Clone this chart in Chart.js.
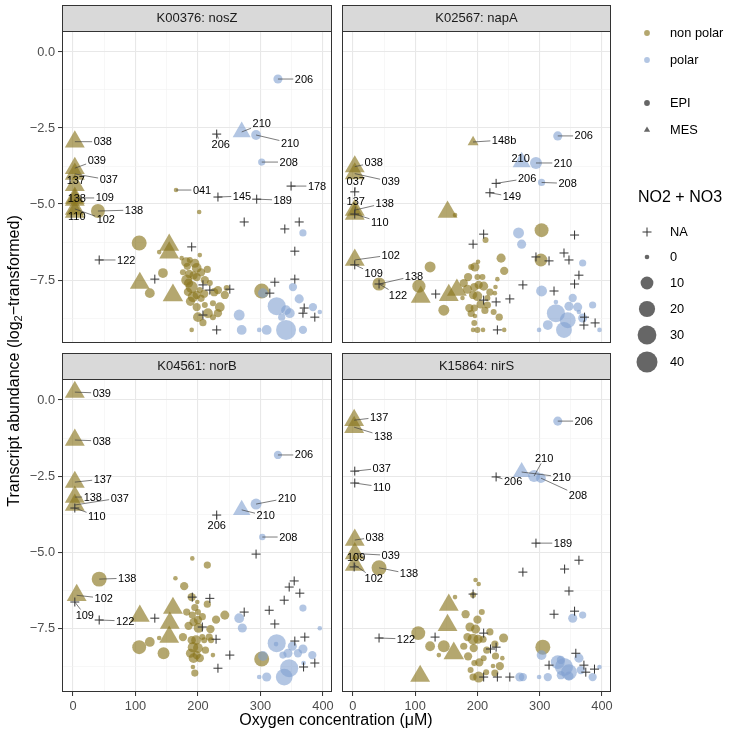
<!DOCTYPE html>
<html>
<head>
<meta charset="utf-8">
<script src="https://cdn.jsdelivr.net/npm/chart.js@4.4.1/dist/chart.umd.min.js"></script>
<style>
  body { margin: 0; background: #fff; font-family: "Liberation Sans", Arial, Helvetica, sans-serif; }
  #wrap { position: relative; width: 729px; height: 739px; overflow: hidden; background: #fff; }
  #wrap canvas { position: absolute; left: 0; top: 0; }
  .title { position: absolute; font-size: 16px; line-height: 20px; color: #000; text-align: center; white-space: nowrap; }
  .ytitle { left: -186px; top: 351px; width: 400px; transform: rotate(-90deg); }
  .xtitle { left: 136px; top: 710px; width: 400px; }
  .ytitle sub { font-size: 11px; vertical-align: -3px; line-height: 0; }
  .leg { position: absolute; left: 670px; font-size: 12.8px; line-height: 16px; color: #000; white-space: nowrap; }
  .legtitle { position: absolute; left: 638px; top: 187px; font-size: 16px; line-height: 20px; white-space: nowrap; }
</style>
</head>
<body>
<div id="wrap">
  <canvas id="c0" width="729" height="739"></canvas>
  <canvas id="c1" width="729" height="739"></canvas>
  <canvas id="c2" width="729" height="739"></canvas>
  <canvas id="c3" width="729" height="739"></canvas>
  <svg id="legsym" width="60" height="400" style="position:absolute;left:620px;top:0"></svg>
  <div class="title ytitle">Transcript abundance (log<sub>2</sub>−transformed)</div>
  <div class="title xtitle">Oxygen concentration (μM)</div>
  <div class="legtitle">NO2 + NO3</div>
</div>
<script>
// ---- data: [oxygen (uM), log2 transcript abundance, NO2+NO3 (uM)] ----
// crosses (no NO2+NO3 value): [oxygen, abundance]
// labels: [oxygen, abundance, station]

// K00376: nosZ
const nosZ_npEpi = [[165,-4.54,0],[40,-5.23,13],[106,-6.28,16],[144,-7.27,4],[123,-7.93,4],[138,-6.58,0],[174,-6.78,0],
  [181,-6.91,4],[187,-6.84,0.3],[203,-6.68,0],[202,-5.26,0],[198,-7.1,4],[176,-7.24,0.3],[182,-7.5,6],[190,-7.73,8],
  [198,-7.4,2],[211,-7.5,2],[219,-7.6,0.3],[198,-7.99,2],[198,-8.39,2],[200,-8.72,4],[190,-9.14,0],[211,-8.32,0.3],
  [224,-8.26,0.3],[232,-7.83,2],[243,-7.99,2],[246,-7.76,0.3],[235,-8.39,4],[232,-8.59,2],[224,-8.72,0.3],[216,-8.59,4],
  [203,-7.83,0.3],[184,-7.89,2],[185,-7.6,3],[193,-7.35,2],[205,-8.1,1],[192,-8.05,5],[186,-7.3,2],[210,-7.95,2],
  [195,-6.95,3],[205,-7.25,2],[188,-8.2,3],[215,-7.15,1],[226,-7.9,2],[208,-8.9,1],[183,-7.05,1],[302,-7.86,16]];
const nosZ_pEpi = [[328,-0.89,3],[293,-2.73,4],[302,-3.62,1],[368,-5.95,1],[352,-7.73,2],[362,-8.12,3],[326,-8.36,27],
  [341,-8.49,4],[347,-8.59,4],[384,-8.39,2],[395,-8.55,0],[334,-8.72,1],[341,-9.14,35],[368,-9.14,2],[310,-9.14,4],
  [298,-9.14,0],[270,-9.14,4],[266,-8.65,6],[304,-7.93,4]];
const nosZ_npMes = [[3,-2.95,35],[3,-3.82,35],[3,-4.01,35],[3,-4.38,35],[3,-4.87,35],[3,-4.8,35],[3,-5.26,35],[3,-5.16,35],
  [154,-6.35,35],[154,-6.6,35],[107,-7.6,35],[160,-8.0,38]];
const nosZ_pMes = [[270,-2.63,27]];
const nosZ_na = [[230,-2.7],[349,-4.41],[232,-4.77],[294,-4.84],[42,-6.84],[131,-7.47],[190,-6.41],[208,-7.66],[219,-7.83],
  [251,-7.8],[208,-8.65],[230,-9.14],[274,-5.59],[339,-5.82],[362,-5.59],[355,-6.55],[355,-7.47],[323,-7.57],[315,-7.93],
  [370,-8.42],[368,-8.59],[387,-8.72]];
const nosZ_labels = [[328,-0.89,'206'],[270,-2.63,'210'],[293,-2.73,'210'],[230,-2.7,'206'],[302,-3.62,'208'],[349,-4.41,'178'],
  [165,-4.54,'041'],[232,-4.77,'145'],[294,-4.84,'189'],[3,-2.95,'038'],[3,-3.82,'039'],[3,-4.01,'037'],[3,-4.38,'137'],
  [3,-4.87,'138'],[3,-4.8,'109'],[3,-5.26,'110'],[3,-5.16,'102'],[40,-5.23,'138'],[42,-6.84,'122']];

// K02567: napA
const napA_npEpi = [[164,-5.36,0],[124,-7.07,6],[106,-7.7,11],[146,-8.49,6],[42,-7.63,11],[213,-6.18,0.3],[238,-6.78,3],
  [243,-7.2,2],[232,-7.47,0],[196,-7.07,3],[190,-7.07,0.3],[201,-6.9,0],[200,-7.4,0.3],[178,-7.6,2],[184,-7.8,3],[195,-7.73,2],
  [202,-7.66,2],[210,-7.7,3],[200,-8.03,4],[193,-7.99,2],[187,-8.42,2],[195,-8.42,1],[196,-8.68,0],[195,-8.91,0.3],
  [200,-9.14,0.3],[209,-9.14,0],[193,-9.14,0],[216,-8.32,1],[226,-8.55,0.3],[235,-8.72,1],[229,-7.73,0],[228,-7.93,0],
  [243,-9.14,0],[176,-8.09,0],[208,-7.4,0.3],[216,-8.09,0.3],[205,-8.3,2],[190,-8.6,1],[220,-7.9,1],[185,-7.4,2],
  [212,-8.5,1],[303,-5.86,13],[302,-6.84,10]];
const napA_pEpi = [[329,-2.76,3],[294,-3.65,8],[303,-4.29,1],[266,-5.95,6],[271,-6.32,3],[303,-7.86,6],[369,-6.94,1],
  [353,-8.09,2],[347,-8.36,3],[361,-8.39,3],[385,-8.32,1],[326,-8.22,0],[326,-8.59,27],[345,-8.82,19],[339,-9.14,19],
  [313,-8.98,4],[299,-9.14,0],[369,-8.75,3],[396,-9.14,0],[363,-8.55,0]];
const napA_npMes = [[193,-2.96,6],[3,-3.77,35],[3,-4.0,35],[3,-5.33,35],[3,-5.2,35],[3,-6.84,35],[152,-5.26,35],
  [109,-8.06,35],[154,-8.0,35],[167,-7.83,35]];
const napA_pMes = [[271,-3.62,27]];
const napA_na = [[3,-4.6],[3,-5.33],[3,-7.0],[42,-7.63],[230,-4.32],[220,-4.63],[133,-7.96],[193,-6.32],[210,-5.99],
  [210,-8.16],[230,-8.22],[252,-8.12],[232,-9.14],[273,-7.66],[294,-6.74],[315,-6.87],[323,-7.86],[356,-6.02],[339,-6.61],
  [347,-6.84],[363,-7.34],[356,-7.63],[372,-8.72],[371,-8.98],[389,-8.91]];
const napA_labels = [[329,-2.76,'206'],[193,-2.96,'148b'],[271,-3.62,'210'],[294,-3.65,'210'],[230,-4.32,'206'],
  [303,-4.29,'208'],[220,-4.63,'149'],[3,-3.77,'038'],[3,-4.0,'039'],[3,-4.6,'037'],[3,-5.33,'137'],[3,-5.2,'138'],
  [3,-5.33,'110'],[3,-6.84,'102'],[3,-7.0,'109'],[42,-7.63,'138'],[42,-7.63,'122']];

// K04561: norB
const norB_npEpi = [[42,-5.87,16],[106,-8.1,13],[123,-7.93,4],[145,-8.3,8],[138,-7.8,0],[191,-5.19,0],[215,-5.41,1],
  [164,-5.84,0],[178,-6.1,2],[190,-6.46,2],[199,-6.62,0],[182,-6.95,1],[191,-7.05,1],[193,-7.28,2],[200,-7.21,2],
  [201,-7.47,4],[176,-7.77,2],[190,-7.87,2],[197,-7.87,4],[192,-8.1,5],[200,-8.13,4],[193,-8.46,4],[198,-8.36,2],
  [192,-8.75,0],[195,-8.95,1],[210,-7.87,0.3],[229,-7.2,2],[220,-7.51,2],[243,-7.05,3],[215,-6.69,1],[221,-7.87,0.3],
  [203,-8.46,2],[207,-7.77,0.3],[200,-6.95,0.3],[218,-7.77,1],[224,-8.36,0],[185,-7.4,2],[207,-7.1,1],[188,-8.3,3],
  [212,-8.2,1],[195,-6.8,1],[302,-8.49,16]];
const norB_pEpi = [[328,-1.8,2],[293,-3.41,6],[303,-4.49,0.5],[266,-7.15,4],[271,-7.47,3],[304,-8.39,4],[368,-6.82,1],
  [395,-7.48,0],[326,-7.97,27],[325,-8.0,0],[351,-8.07,3],[368,-8.16,3],[360,-8.3,2],[344,-8.3,3],[336,-8.36,1],
  [383,-8.36,2],[346,-8.79,27],[338,-9.08,22],[310,-9.08,3],[298,-9.08,0],[369,-8.62,0]];
const norB_npMes = [[3,0.26,35],[3,-1.31,35],[3,-2.69,35],[3,-3.18,35],[3,-3.44,35],[6,-6.4,35],[107,-7.08,35],
  [160,-6.82,35],[155,-7.31,35],[154,-7.77,35]];
const norB_pMes = [[270,-3.6,25]];
const norB_na = [[3,-3.54],[230,-3.77],[293,-5.05],[3,-6.62],[42,-7.21],[191,-6.46],[219,-6.5],[131,-7.15],[207,-7.44],
  [229,-7.84],[251,-8.36],[232,-8.79],[274,-6.95],[314,-6.89],[323,-7.34],[338,-6.56],[346,-6.13],[354,-5.93],
  [363,-6.33],[355,-7.9],[371,-7.77],[369,-8.75],[387,-8.62]];
const norB_labels = [[3,0.26,'039'],[3,-1.31,'038'],[3,-2.69,'137'],[3,-3.18,'138'],[3,-3.44,'037'],[3,-3.54,'110'],
  [328,-1.8,'206'],[293,-3.41,'210'],[270,-3.6,'210'],[230,-3.77,'206'],[303,-4.49,'208'],[42,-5.87,'138'],
  [6,-6.4,'102'],[3,-6.62,'109'],[42,-7.21,'122']];

// K15864: nirS
const nirS_npEpi = [[42,-5.5,16],[105,-7.64,13],[124,-8.07,4],[146,-8.07,8],[138,-8.36,0],[164,-6.46,0],[181,-7.02,2],
  [193,-6.39,0.3],[197,-5.9,0],[202,-6.03,0],[207,-6.95,0.3],[188,-7.44,3],[197,-7.51,3],[184,-7.77,2],[193,-7.84,6],
  [201,-7.84,3],[178,-8.07,1],[194,-8.13,2],[209,-7.84,1],[242,-7.8,3],[228,-8.0,1],[229,-8.39,1],[240,-8.46,0],
  [236,-8.72,2],[225,-8.72,0],[228,-8.95,1],[210,-8.46,0.3],[195,-8.62,0.3],[189,-8.85,0.3],[202,-9.08,6],[193,-9.08,1],
  [214,-8.92,0.3],[200,-7.2,2],[185,-8.4,2],[215,-8.2,1],[203,-8.6,2],[220,-7.6,1],[305,-8.1,16]];
const nirS_pEpi = [[329,-0.69,3],[291,-2.49,8],[302,-2.56,4],[353,-7.15,3],[369,-7.05,1],[303,-8.36,4],[268,-9.08,3],
  [273,-9.08,2],[299,-9.08,0],[313,-9.08,2],[329,-8.59,13],[339,-8.75,27],[347,-8.92,19],[334,-9.02,2],[347,-9.05,3],
  [363,-8.46,3],[366,-8.85,2],[385,-9.08,2],[396,-8.75,0],[334,-8.52,2]];
const nirS_npMes = [[2,-0.66,35],[2,-0.89,35],[3,-4.59,35],[3,-5.03,35],[3,-5.41,35],[154,-6.72,35],[152,-7.38,35],
  [162,-8.3,38],[108,-9.05,35]];
const nirS_pMes = [[271,-2.36,25]];
const nirS_na = [[3,-2.33],[3,-2.72],[230,-2.52],[294,-4.69],[2,-5.47],[42,-7.8],[273,-5.64],[363,-5.25],[340,-5.54],
  [347,-6.26],[323,-7.02],[356,-6.92],[358,-8.3],[315,-8.69],[371,-8.69],[374,-8.92],[388,-8.82],[193,-6.36],[132,-7.77],
  [210,-7.64],[221,-8.16],[230,-8.1],[210,-9.08],[232,-9.08],[252,-9.08]];
const nirS_labels = [[2,-0.66,'137'],[2,-0.89,'138'],[329,-0.69,'206'],[3,-2.33,'037'],[3,-2.72,'110'],[230,-2.52,'206'],
  [271,-2.36,'210'],[291,-2.49,'210'],[302,-2.56,'208'],[294,-4.69,'189'],[3,-4.59,'038'],[3,-5.03,'039'],
  [2,-5.47,'109'],[3,-5.41,'102'],[42,-5.5,'138'],[42,-7.8,'122']];

// axis ticks and legend breaks
const xMajor = [0, 100, 200, 300, 400];
const xMinor = [50, 150, 250, 350];
const yMajor = [-7.5, -5, -2.5, 0];
const yMinor = [-8.75, -6.25, -3.75, -1.25];
const sizeBreaks = [0, 10, 20, 30, 40];

// ---- layout (px), not data ----
// where each label's text sits relative to its point (like ggrepel placed it)
const labelShift = {
  nosZ: [[26,0],[20,-8],[34,8],[4,10],[27,0],[26,0],[26,0],[24,-1],[26,1],[28,0],[22,-8],[34,6],[1,-5],[2,-2],[30,0],[2,5],[31,11],[36,-1],[27,0]],
  napA: [[26,0],[31,-2],[-1,-4],[27,0],[31,-5],[26,1],[22,4],[19,-4],[36,8],[1,-10],[1,-13],[30,-7],[25,8],[36,-5],[19,9],[35,-8],[19,11]],
  norB: [[27,1],[27,1],[28,-3],[18,0],[45,-7],[22,8],[26,0],[31,-6],[24,6],[0,10],[26,0],[28,-1],[27,3],[10,13],[26,1]],
  nirS: [[25,-3],[29,9],[26,0],[27,-3],[27,4],[17,5],[40,5],[10,-18],[37,17],[27,0],[20,-3],[36,2],[2,-9],[19,13],[30,6],[27,1]]
};
const W = 729, H = 739;
const AXW = 45, AXH = 30;   // room kept for tick labels
const areas = [
  { left: 62, top: 31, right: 332, bottom: 343 },
  { left: 342, top: 31, right: 611, bottom: 343 },
  { left: 62, top: 379, right: 332, bottom: 692 },
  { left: 342, top: 379, right: 611, bottom: 692 }
];
const X_MIN = -17.5, X_MAX = 414.5, Y_MIN = -9.57, Y_MAX = 0.69;
const NONPOLAR = 'rgba(138,118,30,0.64)';
const POLAR = 'rgba(128,160,208,0.6)';
const FONT = '"Liberation Sans", Arial, Helvetica, sans-serif';

// ggplot-like size scale: radius grows with sqrt of value
const rCircle = v => 2.3 + 8.2 * Math.sqrt(Math.max(v, 0) / 40);
const rTriangle = v => 1.15 * rCircle(v);

const panels = [
  { title: 'K00376: nosZ', npEpi: nosZ_npEpi, pEpi: nosZ_pEpi, npMes: nosZ_npMes, pMes: nosZ_pMes, na: nosZ_na, labels: nosZ_labels, shift: labelShift.nosZ, showX: false, showY: true },
  { title: 'K02567: napA', npEpi: napA_npEpi, pEpi: napA_pEpi, npMes: napA_npMes, pMes: napA_pMes, na: napA_na, labels: napA_labels, shift: labelShift.napA, showX: false, showY: false },
  { title: 'K04561: norB', npEpi: norB_npEpi, pEpi: norB_pEpi, npMes: norB_npMes, pMes: norB_pMes, na: norB_na, labels: norB_labels, shift: labelShift.norB, showX: true, showY: true },
  { title: 'K15864: nirS', npEpi: nirS_npEpi, pEpi: nirS_pEpi, npMes: nirS_npMes, pMes: nirS_pMes, na: nirS_na, labels: nirS_labels, shift: labelShift.nirS, showX: true, showY: false }
];

// strip, panel border and repelled labels
const facetPlugin = {
  id: 'facet',
  afterDatasetsDraw(chart, args, opts) {
    const { ctx, scales: { x, y } } = chart;
    ctx.save();
    ctx.font = '11px ' + FONT;
    ctx.textAlign = 'center';
    ctx.textBaseline = 'middle';
    opts.labels.forEach((l, i) => {
      const px = x.getPixelForValue(l[0]), py = y.getPixelForValue(l[1]);
      const tx = px + opts.shift[i][0], ty = py + opts.shift[i][1];
      const hw = ctx.measureText(l[2]).width / 2 + 1.5, hh = 5.5;
      const dx = px - tx, dy = py - ty;
      const s = Math.min(dx ? hw / Math.abs(dx) : Infinity, dy ? hh / Math.abs(dy) : Infinity);
      if (s < 1) {
        const ex = tx + dx * s, ey = ty + dy * s;
        if (Math.hypot(px - ex, py - ey) > 3) {
          ctx.strokeStyle = 'rgba(60,60,60,0.75)';
          ctx.lineWidth = 0.9;
          ctx.beginPath();
          ctx.moveTo(px, py);
          ctx.lineTo(ex, ey);
          ctx.stroke();
        }
      }
      ctx.fillStyle = '#000';
      ctx.fillText(l[2], tx, ty + 0.5);
    });
    ctx.restore();
  },
  afterDraw(chart, args, opts) {
    const { ctx, chartArea: a } = chart;
    ctx.save();
    ctx.fillStyle = '#d9d9d9';
    ctx.fillRect(a.left, a.top - 26, a.right - a.left, 26);
    ctx.strokeStyle = '#333';
    ctx.lineWidth = 1;
    ctx.strokeRect(a.left + 0.5, a.top - 25.5, a.right - a.left - 1, 26);
    ctx.strokeRect(a.left + 0.5, a.top + 0.5, a.right - a.left - 1, a.bottom - a.top - 1);
    ctx.fillStyle = '#1a1a1a';
    ctx.font = '13px ' + FONT;
    ctx.textAlign = 'center';
    ctx.textBaseline = 'middle';
    ctx.fillText(opts.title, (a.left + a.right) / 2, a.top - 12.5);
    ctx.restore();
  }
};

const isIn = (list, v) => list.some(m => Math.abs(m - v) < 1e-6);
const fmtY = v => (v < 0 ? '\u2212' : '') + Math.abs(v).toFixed(1);

function axis(major, minor, show, horizontal, min, max) {
  return {
    type: 'linear', min: min, max: max,
    afterBuildTicks: s => { s.ticks = minor.concat(major).sort((a, b) => a - b).map(v => ({ value: v })); },
    afterFit: s => { if (horizontal) s.height = AXH; else s.width = AXW; },
    border: { display: false },
    grid: {
      color: c => isIn(major, c.tick.value) ? '#e8e8e8' : '#f1f1f1',
      lineWidth: c => isIn(major, c.tick.value) ? 1.1 : 0.6,
      drawTicks: show,
      tickLength: 4,
      tickWidth: 1,
      tickColor: c => isIn(major, c.tick.value) ? '#333' : 'rgba(0,0,0,0)'
    },
    ticks: {
      display: show, autoSkip: false, maxRotation: 0, padding: 3,
      color: '#4d4d4d', font: { family: FONT, size: 12.8 },
      callback: v => isIn(major, v) ? (horizontal ? String(v) : fmtY(v)) : ''
    }
  };
}

const pts = arr => arr.map(d => ({ x: d[0], y: d[1], v: d[2] }));

panels.forEach((p, i) => {
  const a = areas[i];
  new Chart(document.getElementById('c' + i), {
    type: 'scatter',
    data: {
      datasets: [
        { data: pts(p.na), pointStyle: 'cross', pointRadius: 4.5, borderColor: '#333', backgroundColor: '#333', borderWidth: 1 },
        { data: pts(p.pMes), pointStyle: 'triangle', pointRadius: c => rTriangle(c.raw.v), backgroundColor: POLAR, borderWidth: 0 },
        { data: pts(p.pEpi), pointStyle: 'circle', pointRadius: c => rCircle(c.raw.v), backgroundColor: POLAR, borderWidth: 0 },
        { data: pts(p.npMes), pointStyle: 'triangle', pointRadius: c => rTriangle(c.raw.v), backgroundColor: NONPOLAR, borderWidth: 0 },
        { data: pts(p.npEpi), pointStyle: 'circle', pointRadius: c => rCircle(c.raw.v), backgroundColor: NONPOLAR, borderWidth: 0 }
      ]
    },
    options: {
      responsive: false,
      animation: false,
      events: [],
      layout: { padding: { left: a.left - AXW, top: a.top, right: W - a.right, bottom: H - a.bottom - AXH } },
      scales: {
        x: axis(xMajor, xMinor, p.showX, true, X_MIN, X_MAX),
        y: axis(yMajor, yMinor, p.showY, false, Y_MIN, Y_MAX)
      },
      plugins: {
        legend: { display: false },
        tooltip: { enabled: false },
        facet: { title: p.title, labels: p.labels, shift: p.shift }
      }
    },
    plugins: [facetPlugin]
  });
});

// legend: colour, shape, NO2 + NO3 size
const svg = document.getElementById('legsym');
const wrap = document.getElementById('wrap');
const NS = 'http://www.w3.org/2000/svg';
const CX = 27;
function el(tag, attrs) {
  const e = document.createElementNS(NS, tag);
  Object.keys(attrs).forEach(k => e.setAttribute(k, attrs[k]));
  svg.appendChild(e);
}
function text(t, y) {
  const d = document.createElement('div');
  d.className = 'leg';
  d.style.top = (y - 8) + 'px';
  d.textContent = t;
  wrap.appendChild(d);
}
function tri(y, r) {
  const h = r * Math.sqrt(3) / 2;
  el('polygon', { points: `${CX},${y - r} ${CX + h},${y + r / 2} ${CX - h},${y + r / 2}`, fill: 'rgba(51,51,51,0.75)' });
}
el('circle', { cx: CX, cy: 33, r: 2.9, fill: NONPOLAR }); text('non polar', 33);
el('circle', { cx: CX, cy: 60, r: 2.9, fill: POLAR }); text('polar', 60);
el('circle', { cx: CX, cy: 103, r: 2.9, fill: 'rgba(51,51,51,0.75)' }); text('EPI', 103);
tri(130, 3.6); text('MES', 130);
el('path', { d: `M${CX - 4.5},232 H${CX + 4.5} M${CX},227.5 V236.5`, stroke: '#333', 'stroke-width': 1 }); text('NA', 232);
const legY = [257, 283, 309, 335, 362];
sizeBreaks.forEach((v, k) => {
  el('circle', { cx: CX, cy: legY[k], r: rCircle(v), fill: 'rgba(51,51,51,0.75)' });
  text(String(v), legY[k]);
});
</script>
</body>
</html>
